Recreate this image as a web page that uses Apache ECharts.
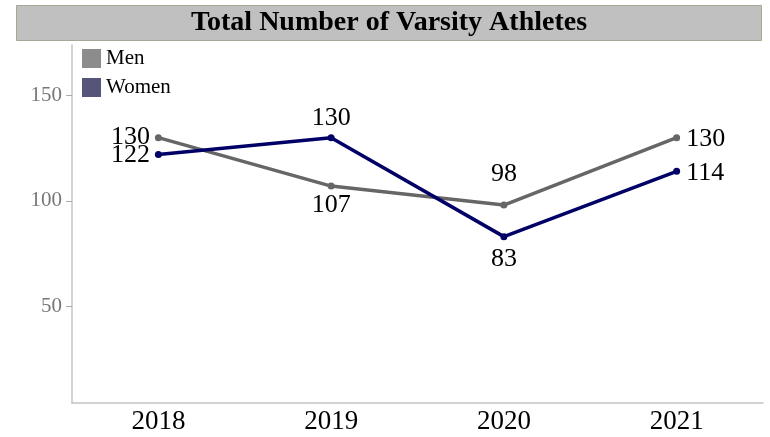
<!DOCTYPE html>
<html>
<head>
<meta charset="utf-8">
<script src="https://cdn.jsdelivr.net/npm/echarts@6/dist/echarts.min.js"></script>
<style>html,body{margin:0;padding:0;background:#fff}#c{width:770px;height:437px}</style>
</head>
<body>
<div id="c"></div>
<script>
const titleText = 'Total Number of Varsity Athletes';
const years = ['2018', '2019', '2020', '2021'];
const men = [130, 107, 98, 130];
const women = [122, 130, 83, 114];
const yTicks = [50, 100, 150];

const SERIF = '"Liberation Serif", "DejaVu Serif", serif';
// label placement config (style only)
const menLabelCfg = [
  {position: 'left', distance: 5, offset: [0, 0]},
  {position: 'bottom', distance: 3, offset: [0, 0]},
  {position: 'top', distance: 14, offset: [0, 0]},
  {position: 'right', distance: 6, offset: [0, 2]}
];
const womenLabelCfg = [
  {position: 'left', distance: 5, offset: [0, 1]},
  {position: 'top', distance: 3, offset: [0, 0]},
  {position: 'bottom', distance: 6, offset: [0, 0]},
  {position: 'right', distance: 6, offset: [0, 2]}
];
function build(vals, cfg) {
  return vals.map((v, i) => ({value: v, label: cfg[i]}));
}

const chart = echarts.init(document.getElementById('c'), null, {renderer: 'canvas'});
chart.setOption({
  animation: false,
  graphic: [
    {type: 'rect', shape: {x: 16.5, y: 5.5, width: 745, height: 35}, style: {fill: '#c0c0c0', stroke: '#a9a897', lineWidth: 1}, z: 0},
    {type: 'text', x: 389, y: 23, style: {text: titleText, fill: '#000', font: 'bold 28px ' + SERIF, align: 'center', verticalAlign: 'middle'}, z: 1}
  ],
  legend: {
    orient: 'vertical', left: 77, top: 43, itemWidth: 19, itemHeight: 19, itemGap: 8,
    icon: 'rect',
    textStyle: {fontFamily: SERIF, fontSize: 21, color: '#000', padding: 0},
    data: [
      {name: 'Men', itemStyle: {color: '#8c8c8c'}},
      {name: 'Women', itemStyle: {color: '#55557a'}}
    ]
  },
  grid: {left: 72, right: 7, top: 45, bottom: 34, containLabel: false},
  xAxis: {
    type: 'category', data: years, boundaryGap: true,
    axisLine: {lineStyle: {color: '#c4c4c4', width: 1.5}},
    axisTick: {show: false},
    axisLabel: {fontFamily: SERIF, fontSize: 27, color: '#000', margin: 5}
  },
  yAxis: {
    type: 'value', min: 4, max: 174,
    splitLine: {show: false},
    axisLine: {show: true, lineStyle: {color: '#c4c4c4', width: 1.5}},
    axisTick: {show: true, length: 6, customValues: yTicks, lineStyle: {color: '#aaaaaa', width: 1}},
    axisLabel: {customValues: yTicks, fontFamily: SERIF, fontSize: 21, color: '#777', margin: 10}
  },
  series: [
    {
      name: 'Men', type: 'line', data: build(men, menLabelCfg),
      symbol: 'circle', symbolSize: 7,
      lineStyle: {color: '#666666', width: 3.5},
      itemStyle: {color: '#666666'},
      label: {show: true, fontFamily: SERIF, fontSize: 26, color: '#000'},
      z: 2
    },
    {
      name: 'Women', type: 'line', data: build(women, womenLabelCfg),
      symbol: 'circle', symbolSize: 7,
      lineStyle: {color: '#000066', width: 3.5},
      itemStyle: {color: '#000066'},
      label: {show: true, fontFamily: SERIF, fontSize: 26, color: '#000'},
      z: 3
    }
  ]
});
</script>
</body>
</html>
